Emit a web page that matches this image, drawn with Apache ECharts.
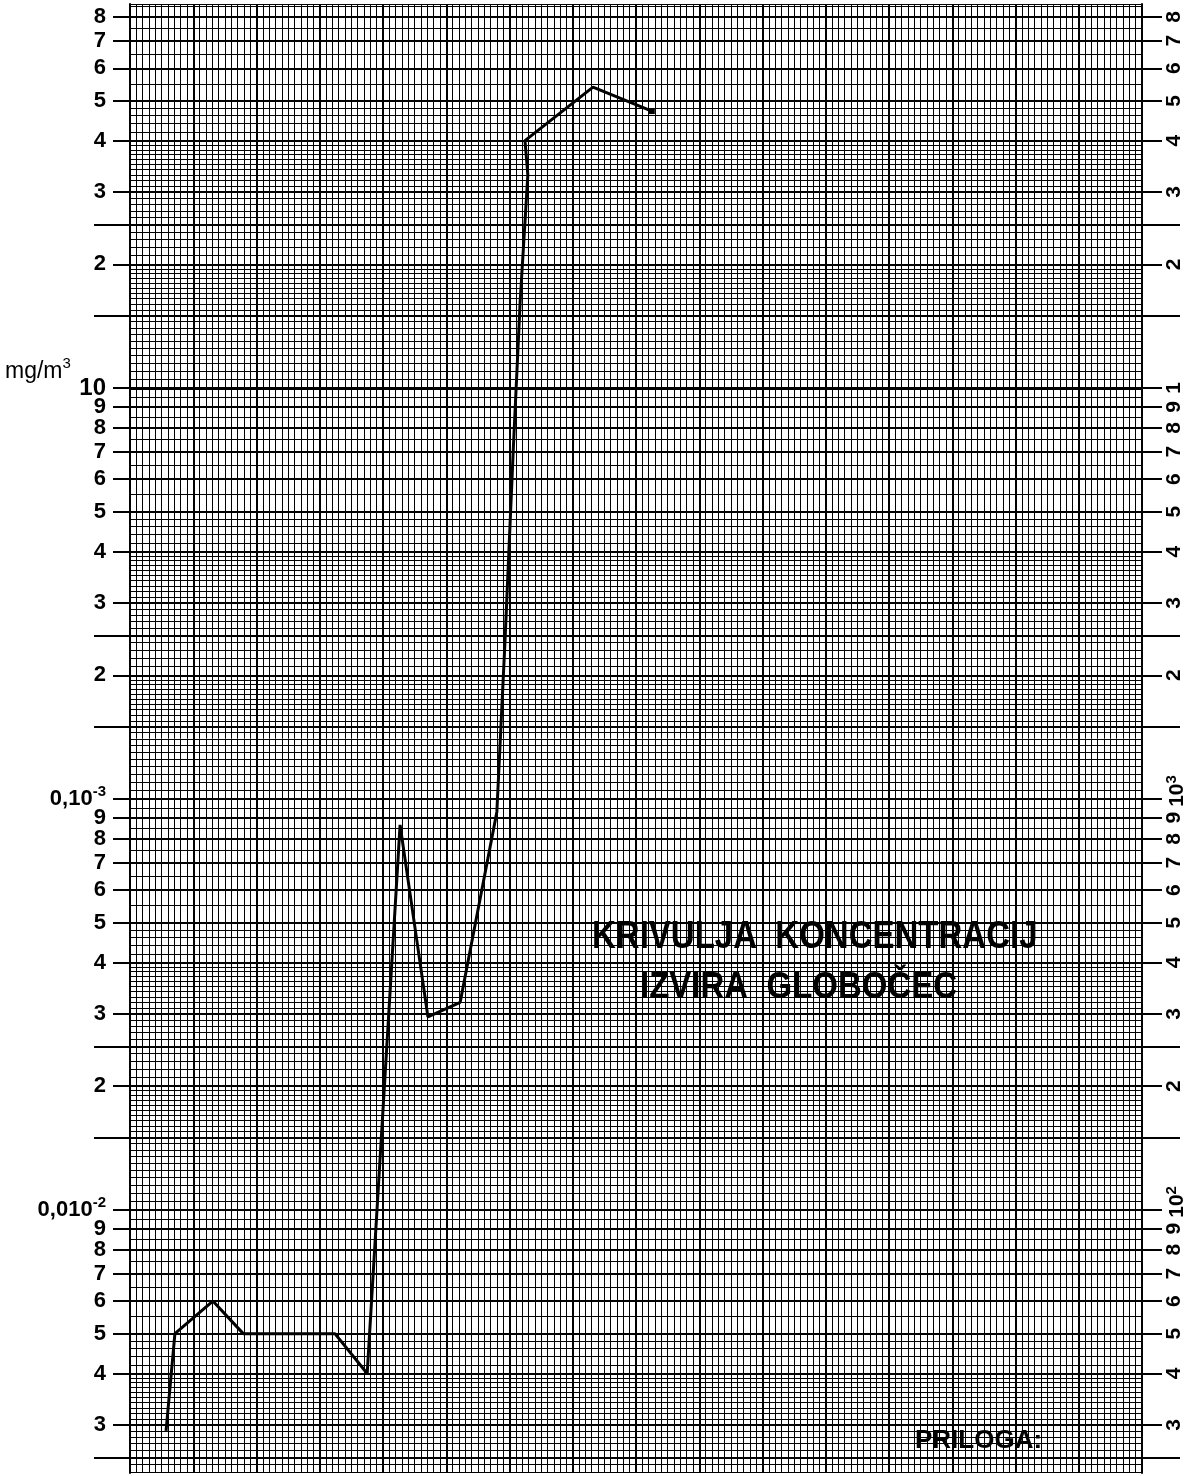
<!DOCTYPE html>
<html><head><meta charset="utf-8">
<script src="https://cdn.jsdelivr.net/npm/echarts@6/dist/echarts.min.js"></script>
<style>html,body{margin:0;padding:0;background:#fff}#c{width:1195px;height:1476px}</style>
</head><body><div id="c"></div>
<script>
// ---- data (x in graph-paper column units, y in mg/m3 on log paper) ----
const xVals = [5.7, 7.1, 13.1, 17.9, 32.4, 37.5, 42.7, 47.1, 52.2, 58.0, 59.3, 60.6, 61.7, 62.9, 62.45, 73.2, 82.5];
const yVals = [0.0029, 0.005, 0.006, 0.005, 0.005, 0.004, 0.0865, 0.0295, 0.032, 0.093, 0.244, 0.71, 1.64, 3.3, 4.0, 5.4, 4.72];

// ---- axis ticks / labels ----
const leftTickValues = [8,7,6,5,4,3,2, 1,0.9,0.8,0.7,0.6,0.5,0.4,0.3,0.2, 0.1,0.09,0.08,0.07,0.06,0.05,0.04,0.03,0.02, 0.01,0.009,0.008,0.007,0.006,0.005,0.004,0.003];
const leftTickLabels = ['8','7','6','5','4','3','2', '{t|10}','9','8','7','6','5','4','3','2', '{b|0,10}{s|-3}','9','8','7','6','5','4','3','2', '{b|0,010}{s|-2}','9','8','7','6','5','4','3'];
const rightTickLabels = ['8','7','6','5','4','3','2', '1','9','8','7','6','5','4','3','2', '{bp|10}{s|3}','9','8','7','6','5','4','3','2', '{bp|10}{s|2}','9','8','7','6','5','4','3'];
const dashValues = [2.5, 1.5, 0.25, 0.15, 0.025, 0.015, 0.0025];
const decadeValues = [1];
// fine ruling of the log paper: [from, to, step] within one decade
const fineRuling = [[1,2,0.05],[2,3,0.1],[3,4,0.1],[4,5,0.2],[5,10,0.5]];
const decades = [0.001, 0.01, 0.1, 1];
const Y_MIN = 0.00229, Y_MAX = 8.6;
const X_MIN = 0, X_MAX = 160;

const fineValues = [];
decades.forEach(d => fineRuling.forEach(([a,b,s]) => {
  const n = Math.round((b - a) / s);
  for (let i = 0; i < n; i++) {
    const v = +( (a + i * s) * d ).toPrecision(6);
    if (v >= Y_MIN && v <= Y_MAX) fineValues.push(v);
  }
}));

function lookup(vals, labels) {
  return function (v) {
    for (let i = 0; i < vals.length; i++) if (Math.abs(v / vals[i] - 1) < 1e-6) return labels[i];
    return '';
  };
}

const FONT = 'Liberation Sans, Arial, sans-serif';
const richL = {
  t: {fontFamily: FONT, fontWeight: 'bold', fontSize: 24, color: '#000'},
  b: {fontFamily: FONT, fontWeight: 'bold', fontSize: 22, color: '#000'},
  s: {fontFamily: FONT, fontWeight: 'bold', fontSize: 15, color: '#000', padding: [0,0,14,0]}
};
const richR = {
  bp: {fontFamily: FONT, fontWeight: 'bold', fontSize: 21, color: '#000', padding: [0,0,0,16]},
  s: {fontFamily: FONT, fontWeight: 'bold', fontSize: 15, color: '#000', padding: [0,0,12,0]}
};
function logAxis(extra) {
  return Object.assign({
    type: 'log', logBase: 10, min: Y_MIN, max: Y_MAX,
    axisLine: {show: false}, axisTick: {show: false}, axisLabel: {show: false},
    splitLine: {show: false}, minorTick: {show: false}
  }, extra);
}

const pairs = xVals.map((x, i) => i === xVals.length - 1
  ? {value: [x, yVals[i]], symbol: 'rect', symbolSize: 6}
  : {value: [x, yVals[i]], symbol: 'none'});

const option = {
  animation: false,
  backgroundColor: '#fff',
  grid: {left: 130, right: 53, top: 4, bottom: 3, containLabel: false},
  xAxis: [
    {type: 'value', min: X_MIN, max: X_MAX, interval: 10, position: 'bottom',
     axisLine: {show: false}, axisTick: {show: false}, axisLabel: {show: false},
     splitLine: {show: true, lineStyle: {color: '#000', width: 2}}},
    {type: 'value', min: X_MIN, max: X_MAX, interval: 1, position: 'top',
     axisLine: {show: true, lineStyle: {color: '#000', width: 1}}, axisTick: {show: false}, axisLabel: {show: false},
     splitLine: {show: true, lineStyle: {color: '#000', width: 1}}}
  ],
  yAxis: [
    logAxis({position: 'left',
      axisLine: {show: true, onZero: false, lineStyle: {color: '#000', width: 2}},
      axisTick: {show: true, customValues: leftTickValues, length: 17, lineStyle: {color: '#000', width: 2}},
      axisLabel: {show: true, customValues: leftTickValues, margin: 24, formatter: lookup(leftTickValues, leftTickLabels),
        fontFamily: FONT, fontWeight: 'bold', fontSize: 22, color: '#000', rich: richL},
      splitLine: {show: true, lineStyle: {color: '#000', width: 2}}}),
    logAxis({position: 'left',
      axisTick: {show: false, customValues: fineValues},
      splitLine: {show: true, lineStyle: {color: '#000', width: 1}}}),
    logAxis({position: 'right',
      axisLine: {show: true, onZero: false, lineStyle: {color: '#000', width: 2}},
      axisTick: {show: true, customValues: leftTickValues, length: 20, lineStyle: {color: '#000', width: 2}},
      axisLabel: {show: true, customValues: leftTickValues, margin: 22, rotate: 90, formatter: lookup(leftTickValues, rightTickLabels),
        fontFamily: FONT, fontWeight: 'bold', fontSize: 21, color: '#000', rich: richR}}),
    logAxis({position: 'left',
      axisTick: {show: true, customValues: dashValues, length: 36, lineStyle: {color: '#000', width: 2}},
      splitLine: {show: true, lineStyle: {color: '#000', width: 2}}}),
    logAxis({position: 'right',
      axisTick: {show: true, customValues: dashValues, length: 38, lineStyle: {color: '#000', width: 2}}}),
    logAxis({position: 'left',
      axisTick: {show: false, customValues: decadeValues},
      splitLine: {show: true, lineStyle: {color: '#000', width: 3}}})
  ],
  graphic: [
    {type: 'text', left: 5, top: 356, style: {text: '{m|mg/m}{s|3}', rich: {
      m: {fontFamily: FONT, fontSize: 23, fill: '#000'},
      s: {fontFamily: FONT, fontSize: 15, fill: '#000', padding: [0,0,16,0]}}}},
    {type: 'text', x: 592, y: 918, scaleY: 1.17, style: {text: 'KRIVULJA  KONCENTRACIJ', font: 'bold 33px ' + FONT, fill: '#000'}},
    {type: 'text', x: 640, y: 969, scaleY: 1.12, style: {text: 'IZVIRA  GLOBOČEC', font: 'bold 33px ' + FONT, fill: '#000'}},
    {type: 'text', left: 915, top: 1428, style: {text: 'PRILOGA:', font: 'bold 26px ' + FONT, fill: '#000'}}
  ],
  series: [{
    type: 'line', xAxisIndex: 0, yAxisIndex: 0, data: pairs,
    showSymbol: true, symbol: 'none',
    itemStyle: {color: '#000'},
    lineStyle: {color: '#000', width: 3}, z: 10
  }]
};
const chart = echarts.init(document.getElementById('c'), null, {renderer: 'canvas'});
chart.setOption(option);
</script>
</body></html>
